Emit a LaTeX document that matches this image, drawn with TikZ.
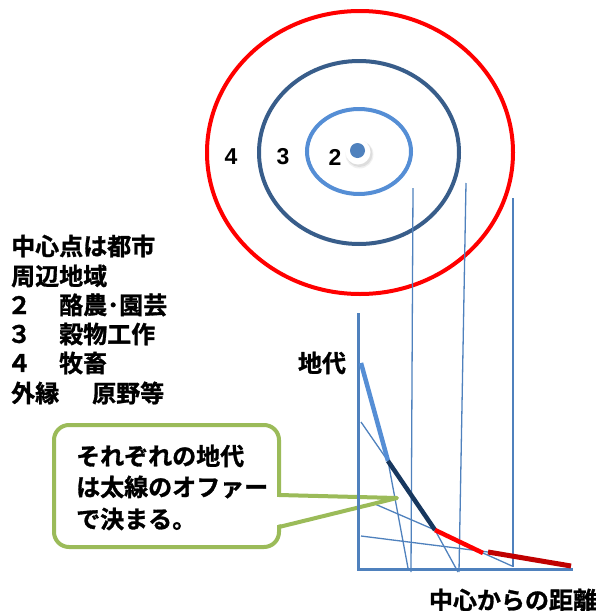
\documentclass[tikz,border=0pt]{standalone}
\usepackage{fontspec}
\setmainfont{Liberation Sans}
\newfontfamily\jp[FakeBold=1.2]{Noto Sans CJK JP Bold}
\definecolor{ringred}{HTML}{FF0000}
\definecolor{ringnavy}{HTML}{385D8A}
\definecolor{ringlight}{HTML}{558ED5}
\definecolor{thinblue}{HTML}{4F81BD}
\definecolor{navythick}{HTML}{17375E}
\definecolor{darkred}{HTML}{C00000}
\definecolor{calloutgreen}{HTML}{9BBB59}
\tikzset{
  ring/.style={line width=4pt},
  thinline/.style={draw=thinblue, line width=1.3pt},
  axisline/.style={draw=thinblue, line width=3pt},
  offer/.style={line width=4.5pt},
  jptext/.style={font=\jp\fontsize{24}{28}\selectfont, inner sep=0pt, text=black},
  numtext/.style={font=\bfseries\fontsize{23}{26}\selectfont, inner sep=0pt},
}
\begin{document}
\begin{tikzpicture}[x=1pt,y=-1pt]
\useasboundingbox (0,0) rectangle (596,611);

% rings
\draw[ring, ringred] (360,152.5) ellipse [x radius=153, y radius=141.5];
\draw[ring, ringnavy] (359,152.5) ellipse [x radius=100, y radius=91.5];
\draw[ring, ringlight] (359,151.5) ellipse [x radius=52, y radius=42.5];
% centre point
\fill[black, opacity=0.06] (359.5,154.5) circle [radius=14];
\fill[black, opacity=0.08] (359.5,154) circle [radius=13];
\fill[white] (358,152) circle [radius=12.5];
\fill[thinblue] (357.5,150.5) circle [radius=7.5];

\node[numtext] (n4) at (231,157) {4};
\node[numtext] (n3) at (283,157) {3};
\node[numtext] (n2) at (335,157) {2};

% left legend
\node[jptext, anchor=west] (l1) at (11,246) {中心点は都市};
\node[jptext, anchor=west] (l2) at (11,276) {周辺地域};
\node[jptext, anchor=west] (l3a) at (7,305) {２};
\node[jptext, anchor=west] (l3b) at (59,305) {酪農･園芸};
\node[jptext, anchor=west] (l4a) at (7,334) {３};
\node[jptext, anchor=west] (l4b) at (59,334) {穀物工作};
\node[jptext, anchor=west] (l5a) at (7,363) {４};
\node[jptext, anchor=west] (l5b) at (59,363) {牧畜};
\node[jptext, anchor=west] (l6a) at (11,393) {外縁};
\node[jptext, anchor=west] (l6b) at (92,393) {原野等};

\node[jptext] (rent) at (322,363) {地代};
\node[jptext] (dist) at (513,600) {中心からの距離};

% graph points
\coordinate (o) at (358,569);
\coordinate (ytop) at (358,313);
\coordinate (xend) at (573,569);
\coordinate (a) at (361,363);
\coordinate (b) at (388,461);
\coordinate (c) at (435,530);
\coordinate (d) at (483,553);
\coordinate (e) at (488,552);
\coordinate (f) at (571,566);

% vertical projection lines
\draw[thinline] (413,188) -- (411,572);
\draw[thinline] (466,183) -- (459,572);
\draw[thinline] (513,198) -- (513,567);

% thin bid-rent lines
\draw[thinline] (b) -- (408,568);
\draw[thinline] (361,422) -- (b) -- (c) -- (458,572);
\draw[thinline] (361,498) -- (c) -- (d) -- (512,566);
\draw[thinline] (361,536) -- (e) -- (f);

% callout
\node[draw=calloutgreen, line width=4pt, rounded corners=15pt, fill=white,
      minimum width=225pt, minimum height=122pt, inner sep=0pt] (callout) at (166.5,486) {};
\coordinate (tip) at (397,498);
\fill[white] (277,497) -- (tip) -- (277,525) -- cycle;
\draw[calloutgreen, line width=4pt, line join=round] (279,495) -- (tip) -- (279,527);
\node[jptext, anchor=west] (c1) at (76,456) {それぞれの地代};
\node[jptext, anchor=west] (c2) at (76,487) {は太線のオファー};
\node[jptext, anchor=west] (c3) at (76,519) {で決まる。};

% axes
\draw[axisline] (ytop) -- (o) -- (xend);

% thick offer segments
\draw[offer, ringlight] (a) -- (b);
\draw[offer, navythick] (b) -- (c);
\draw[offer, ringred] (c) -- (d);
\draw[offer, darkred, line width=5pt] (e) -- (f);
\end{tikzpicture}
\end{document}
